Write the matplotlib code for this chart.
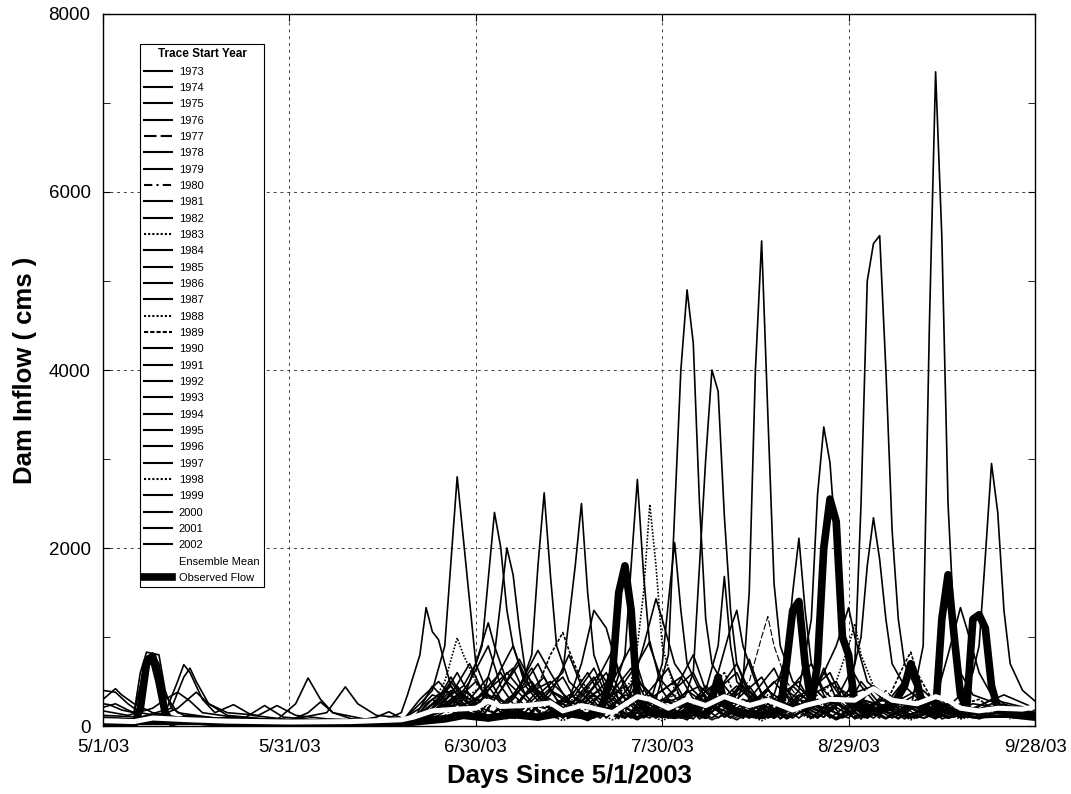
import matplotlib
matplotlib.use("Agg")
import matplotlib.pyplot as plt
import numpy as np

# x axis: days since 5/1/2003
tick_days = [0, 30, 60, 90, 120, 150]
tick_labels = ["5/1/03", "5/31/03", "6/30/03", "7/30/03", "8/29/03", "9/28/03"]

# Ensemble traces, (day, cms) vertices
trace_1973 = [(0,60),(10,50),(20,40),(30,40),(40,35),(48,50),(51,250),(53,400),(55,900),(57,2800),(58,2100),(59,1400),(60,700),(62,350),(64,150),(67,450),(70,850),(72,600),(75,250),(78,90),(82,300),(86,700),(88,950),(90,400),(93,90),(97,300),(101,200),(104,750),(106,350),(109,80),(114,300),(116,650),(118,300),(121,80),(126,250),(130,600),(132,300),(135,80),(140,200),(145,350),(150,200)]
trace_1974 = [(0,210),(2,250),(4,180),(5,150),(6,600),(7,830),(9,800),(10,400),(11,200),(13,120),(20,80),(30,60),(40,50),(50,70),(53,450),(55,300),(57,100),(61,350),(66,650),(68,350),(71,100),(75,300),(78,600),(80,350),(83,90),(86,500),(90,250),(94,100),(97,400),(99,900),(100,1680),(101,900),(102,500),(105,250),(108,90),(111,450),(114,700),(116,350),(119,100),(122,500),(125,250),(129,80),(134,300),(138,100),(143,250),(150,150)]
trace_1975 = [(0,40),(10,30),(20,30),(30,30),(40,30),(50,40),(54,250),(57,600),(59,350),(62,100),(66,300),(70,700),(72,400),(75,100),(79,450),(82,850),(84,400),(87,100),(91,350),(95,600),(97,300),(100,100),(104,300),(108,650),(110,350),(114,100),(118,300),(121,700),(122,2500),(123,5000),(124,5420),(125,5510),(126,4000),(127,2200),(128,1200),(129,700),(131,400),(134,200),(138,100),(143,300),(150,180)]
trace_1976 = [(0,80),(8,60),(20,50),(30,60),(33,150),(35,270),(37,150),(40,80),(50,60),(53,200),(56,550),(58,300),(61,100),(64,400),(67,750),(70,350),(73,100),(77,350),(80,600),(83,300),(86,100),(89,300),(91,800),(93,4000),(94,4900),(95,4300),(96,2500),(97,1200),(98,700),(100,450),(103,200),(106,100),(110,400),(113,250),(116,600),(119,300),(122,100),(126,350),(130,200),(134,100),(140,250),(150,150)]
trace_1977 = [(0,30),(10,30),(20,30),(30,25),(40,25),(50,30),(55,120),(58,300),(61,200),(65,80),(68,250),(72,180),(76,400),(79,250),(83,80),(88,200),(92,350),(96,120),(100,300),(104,500),(106,1000),(107,1230),(108,900),(110,500),(112,300),(115,100),(118,250),(122,80),(126,400),(128,250),(132,80),(136,200),(140,100),(145,250),(150,120)]
trace_1978 = [(0,50),(10,40),(20,40),(30,35),(40,35),(50,50),(53,150),(56,350),(59,700),(61,400),(64,200),(68,90),(72,350),(75,800),(77,450),(80,200),(84,90),(88,400),(91,650),(93,300),(96,80),(100,250),(103,500),(105,300),(108,90),(112,400),(114,1200),(115,2600),(116,3360),(117,2960),(118,2000),(119,1200),(120,700),(122,450),(125,200),(128,80),(132,300),(136,200),(141,80),(146,200),(150,150)]
trace_1979 = [(0,100),(5,80),(10,150),(12,500),(13,690),(14,600),(16,300),(18,150),(21,240),(24,120),(30,70),(40,60),(50,80),(53,300),(56,200),(59,500),(62,900),(64,450),(67,150),(70,350),(74,600),(76,1800),(77,2500),(78,1500),(79,800),(81,400),(84,200),(88,90),(92,400),(95,800),(97,400),(100,100),(104,250),(108,90),(112,350),(116,200),(120,90),(124,450),(127,250),(130,90),(134,300),(138,120),(144,150),(150,130)]
trace_1980 = [(0,20),(10,20),(20,20),(30,20),(40,20),(50,30),(54,80),(58,150),(62,60),(66,180),(70,70),(74,200),(78,80),(82,250),(86,90),(90,200),(94,70),(98,220),(102,90),(106,250),(110,100),(114,200),(118,300),(122,110),(126,220),(130,90),(134,250),(138,100),(142,200),(146,80),(150,150)]
trace_1981 = [(0,30),(10,30),(20,30),(30,30),(40,30),(50,40),(54,150),(58,400),(60,300),(64,600),(66,350),(70,100),(74,300),(78,200),(82,500),(85,900),(87,450),(90,200),(94,90),(98,350),(102,600),(104,300),(107,90),(112,250),(116,100),(120,350),(124,450),(127,300),(130,200),(132,900),(133,4500),(134,7350),(135,5500),(136,2500),(137,1100),(138,600),(140,350),(144,250),(150,180)]
trace_1982 = [(0,40),(10,35),(20,30),(30,30),(40,30),(48,40),(51,300),(54,500),(56,350),(58,250),(61,300),(63,800),(65,2000),(66,1700),(67,1100),(68,600),(70,350),(73,90),(76,300),(79,550),(81,300),(84,90),(88,350),(91,200),(95,80),(99,400),(102,700),(104,350),(108,90),(112,250),(116,100),(120,400),(123,250),(127,90),(132,250),(136,100),(142,200),(150,130)]
trace_1983 = [(0,20),(10,20),(20,20),(30,20),(40,20),(50,30),(54,70),(58,150),(62,60),(66,200),(70,80),(74,250),(78,90),(82,300),(85,500),(86,900),(87,1500),(88,2490),(89,1800),(90,900),(92,400),(95,200),(98,70),(102,200),(106,80),(110,250),(114,90),(118,200),(122,80),(128,250),(134,90),(140,200),(150,120)]
trace_1984 = [(0,50),(10,40),(20,35),(30,35),(40,35),(45,60),(48,150),(49,350),(51,800),(52,1330),(53,1060),(54,970),(55,700),(56,450),(58,250),(61,100),(64,400),(67,700),(69,400),(72,200),(76,350),(79,650),(81,350),(84,90),(88,300),(92,500),(94,250),(98,90),(102,300),(106,550),(108,300),(112,90),(116,300),(120,200),(124,400),(127,200),(132,90),(138,250),(144,100),(150,100)]
trace_1985 = [(0,120),(6,100),(11,200),(13,550),(14,650),(15,500),(17,250),(20,150),(25,120),(28,230),(31,120),(36,80),(44,60),(50,80),(53,150),(57,450),(59,250),(62,90),(66,350),(69,650),(71,350),(74,90),(78,300),(82,550),(84,300),(87,90),(91,300),(95,200),(99,300),(102,250),(103,500),(104,1500),(105,4000),(106,5450),(107,3500),(108,1600),(109,900),(111,500),(114,300),(117,90),(121,300),(126,90),(131,250),(136,90),(142,180),(150,140)]
trace_1986 = [(0,60),(8,80),(12,200),(15,380),(17,250),(20,120),(26,80),(34,60),(42,50),(50,60),(52,250),(55,400),(58,200),(62,250),(65,600),(68,350),(72,500),(75,300),(77,700),(79,1300),(81,1100),(83,600),(85,350),(88,200),(92,300),(96,450),(99,250),(103,90),(107,400),(110,250),(114,90),(118,350),(122,200),(126,300),(130,90),(134,200),(142,120),(150,130)]
trace_1987 = [(0,30),(10,30),(20,30),(30,25),(40,25),(50,40),(54,200),(57,350),(60,200),(63,500),(66,900),(68,450),(71,200),(74,300),(78,100),(82,350),(84,800),(85,1800),(86,2770),(87,1700),(88,900),(90,500),(93,250),(97,90),(101,350),(104,200),(108,500),(111,250),(115,90),(119,400),(122,250),(126,90),(131,300),(136,200),(144,100),(150,120)]
trace_1988 = [(0,40),(10,40),(20,35),(30,35),(40,35),(48,50),(51,150),(53,250),(55,500),(57,990),(58,800),(60,500),(63,250),(66,80),(70,180),(74,60),(78,200),(82,70),(86,180),(90,60),(94,200),(98,70),(102,180),(106,60),(110,200),(114,80),(118,250),(122,90),(126,200),(130,70),(134,180),(138,80),(144,160),(150,110)]
trace_1989 = [(0,30),(10,30),(20,30),(30,30),(40,30),(50,40),(54,150),(58,400),(61,250),(64,90),(67,300),(70,450),(72,800),(74,1050),(75,850),(77,500),(80,250),(83,90),(87,400),(90,250),(93,90),(97,350),(100,600),(102,300),(106,90),(110,300),(114,200),(118,450),(121,250),(125,90),(127,400),(129,700),(130,830),(131,600),(133,350),(136,200),(141,300),(145,100),(150,130)]
trace_1990 = [(0,250),(1,240),(3,180),(5,150),(6,450),(7,780),(8,820),(9,700),(10,350),(12,150),(18,90),(23,100),(26,230),(29,100),(36,60),(44,50),(50,70),(53,200),(56,500),(58,300),(61,900),(63,2400),(64,2010),(65,1300),(66,900),(68,500),(71,250),(74,90),(78,400),(81,250),(85,90),(89,350),(93,550),(95,300),(99,90),(103,300),(107,200),(111,450),(114,250),(118,90),(122,300),(127,200),(132,400),(135,200),(140,90),(150,120)]
trace_1991 = [(0,20),(10,20),(20,20),(30,20),(40,20),(50,30),(54,120),(57,250),(60,90),(63,350),(66,200),(69,450),(72,250),(75,90),(78,350),(81,600),(83,300),(86,90),(90,300),(94,200),(98,450),(101,250),(104,90),(108,350),(110,800),(111,1500),(112,2110),(113,1300),(114,700),(116,400),(119,200),(123,90),(127,300),(131,200),(136,90),(142,200),(150,110)]
trace_1992 = [(0,30),(10,30),(20,30),(30,30),(40,30),(50,50),(53,200),(56,400),(59,300),(62,550),(64,300),(68,90),(72,400),(76,250),(80,400),(84,200),(87,900),(89,1430),(90,1200),(92,700),(95,400),(98,200),(102,450),(105,250),(109,90),(113,350),(117,600),(119,300),(123,90),(127,250),(131,400),(134,200),(140,100),(150,130)]
trace_1993 = [(0,40),(10,40),(20,40),(30,40),(40,50),(44,100),(46,160),(48,90),(52,100),(55,200),(58,350),(61,200),(65,90),(68,350),(71,550),(73,300),(77,90),(81,300),(84,450),(86,250),(90,90),(94,400),(97,250),(101,90),(105,300),(109,550),(111,300),(115,90),(118,250),(120,400),(122,1000),(123,1800),(124,2340),(125,1870),(126,1200),(127,700),(129,450),(132,250),(136,90),(140,200),(150,140)]
trace_1994 = [(0,30),(10,30),(20,30),(30,30),(40,30),(50,40),(53,120),(56,300),(59,200),(62,450),(64,250),(67,90),(70,300),(74,550),(76,300),(80,90),(84,350),(88,250),(90,700),(91,1400),(92,2060),(93,1300),(94,700),(96,400),(99,200),(103,90),(106,350),(110,200),(114,450),(117,250),(121,90),(125,300),(129,200),(134,350),(138,90),(144,200),(150,110)]
trace_1995 = [(0,170),(4,120),(8,200),(10,300),(12,380),(14,280),(16,150),(22,90),(30,70),(40,60),(50,70),(54,200),(57,300),(60,500),(62,300),(66,90),(70,400),(73,250),(77,90),(81,300),(85,650),(87,350),(91,90),(95,300),(99,200),(103,450),(106,250),(110,90),(114,350),(118,500),(120,250),(124,90),(128,300),(132,200),(134,300),(136,800),(138,1330),(139,1100),(141,600),(143,350),(146,200),(150,150)]
trace_1996 = [(0,50),(10,50),(20,50),(28,70),(31,250),(33,540),(35,300),(37,150),(42,80),(50,70),(53,150),(56,300),(59,200),(62,350),(65,250),(67,400),(69,800),(70,1800),(71,2620),(72,1700),(73,900),(75,500),(78,300),(81,90),(85,350),(89,200),(93,90),(97,450),(100,250),(104,90),(108,300),(112,500),(114,250),(118,90),(122,300),(126,200),(131,90),(136,250),(142,100),(150,120)]
trace_1997 = [(0,30),(10,30),(20,30),(30,30),(40,30),(50,40),(54,80),(58,180),(62,70),(66,200),(70,80),(74,250),(78,90),(82,200),(86,70),(90,250),(94,90),(98,200),(102,70),(106,250),(110,90),(114,200),(118,80),(122,250),(126,90),(130,200),(134,80),(138,350),(140,600),(141,900),(142,1900),(143,2950),(144,2400),(145,1300),(146,700),(148,400),(150,280)]
trace_1998 = [(0,30),(10,30),(20,30),(30,30),(40,30),(50,40),(54,150),(58,300),(61,450),(63,250),(67,90),(70,300),(74,200),(78,450),(80,250),(84,90),(88,300),(92,200),(96,350),(99,200),(103,90),(107,350),(110,200),(114,300),(118,500),(120,900),(121,1150),(122,800),(124,450),(127,250),(131,90),(135,250),(140,100),(150,130)]
trace_1999 = [(0,400),(2,380),(4,250),(6,150),(10,100),(16,80),(22,80),(30,70),(36,150),(39,440),(41,250),(44,120),(50,80),(53,250),(56,450),(58,250),(62,90),(65,300),(69,500),(71,300),(75,90),(79,350),(82,200),(86,90),(90,300),(93,200),(95,600),(96,1800),(97,3000),(98,4000),(99,3760),(100,2360),(101,1300),(102,700),(104,400),(107,200),(111,90),(115,300),(119,90),(123,250),(128,90),(133,200),(138,100),(150,120)]
trace_2000 = [(0,300),(2,420),(3,350),(5,250),(8,150),(12,100),(20,80),(30,60),(40,50),(48,70),(51,200),(53,350),(55,300),(58,450),(60,700),(62,1160),(63,900),(65,500),(68,300),(71,90),(75,350),(78,250),(82,450),(85,250),(89,90),(93,300),(96,200),(100,350),(104,200),(108,90),(112,300),(116,200),(120,350),(124,200),(130,90),(136,250),(142,100),(150,120)]
trace_2001 = [(0,30),(10,30),(20,30),(30,30),(40,30),(50,40),(54,70),(58,160),(62,60),(66,220),(70,70),(74,180),(78,60),(82,220),(86,80),(90,180),(94,70),(97,250),(99,600),(101,1100),(102,1300),(103,900),(105,500),(107,250),(110,80),(114,220),(118,70),(122,200),(126,80),(130,250),(134,90),(140,200),(150,130)]
trace_2002 = [(0,40),(10,40),(20,40),(30,40),(40,40),(48,50),(51,120),(54,300),(57,200),(61,350),(64,200),(68,90),(72,400),(75,250),(79,90),(83,300),(86,550),(88,300),(92,90),(96,350),(100,250),(104,450),(106,250),(110,90),(114,300),(118,900),(120,1330),(121,1000),(123,500),(126,300),(130,90),(135,250),(140,100),(150,130)]

traces = [trace_1973, trace_1974, trace_1975, trace_1976, trace_1977, trace_1978,
          trace_1979, trace_1980, trace_1981, trace_1982, trace_1983, trace_1984,
          trace_1985, trace_1986, trace_1987, trace_1988, trace_1989, trace_1990,
          trace_1991, trace_1992, trace_1993, trace_1994, trace_1995, trace_1996,
          trace_1997, trace_1998, trace_1999, trace_2000, trace_2001, trace_2002]
trace_years = list(range(1973, 2003))

# Ensemble mean (white) and observed flow (heavy black)
ensemble_mean = [(0,60),(5,50),(8,90),(11,80),(14,70),(20,55),(30,45),(40,50),(48,70),(50,100),(53,170),(57,190),(60,200),(62,280),(64,220),(68,230),(72,260),(74,170),(77,230),(82,150),(86,330),(88,300),(91,200),(94,300),(97,230),(100,330),(104,230),(107,290),(111,180),(113,230),(117,300),(121,290),(124,420),(127,290),(131,250),(134,330),(136,290),(138,200),(141,170),(144,200),(148,190),(150,215)]
observed_flow = [(0,15),(5,15),(6,200),(7,700),(8,780),(9,500),(10,150),(11,40),(13,70),(14,90),(16,50),(20,30),(30,20),(40,20),(48,30),(52,60),(55,80),(58,120),(62,90),(66,130),(70,100),(74,150),(78,110),(80,150),(82,600),(83,1500),(84,1800),(85,1300),(86,300),(88,150),(92,120),(95,160),(97,120),(98,300),(99,550),(100,250),(102,150),(106,120),(109,180),(110,700),(111,1300),(112,1400),(113,700),(114,250),(115,700),(116,2000),(117,2550),(118,2300),(119,1000),(120,800),(121,250),(123,150),(127,220),(129,450),(130,700),(131,500),(132,200),(134,150),(135,1200),(136,1700),(137,1000),(138,350),(139,200),(140,1200),(141,1250),(142,1100),(143,450),(144,200),(146,130),(150,100)]

# a few traces use dotted / dash-dot lines like the original legend
dotted = {1983: (0, (1, 1)), 1988: (0, (1, 1)), 1989: (0, (2, 1)),
          1998: (0, (1, 1)), 1980: (0, (4, 2, 1, 2)), 1977: (0, (6, 2))}

plt.rcParams['font.family'] = ['Liberation Sans', 'DejaVu Sans']

fig = plt.figure(figsize=(10.71, 7.94), dpi=100)
ax = fig.add_axes([0.0962, 0.0856, 0.8702, 0.8968])

for year, tr in zip(trace_years, traces):
    d, q = zip(*tr)
    ls = dotted.get(year, '-')
    lw = 0.8 if year in (1977, 1980) else 1.2
    ax.plot(d, q, color='black', lw=lw, ls=ls, label=str(year), zorder=2)

d, q = zip(*ensemble_mean)
ax.plot(d, q, color='white', lw=3.6, label='Ensemble Mean', zorder=5)
d, q = zip(*observed_flow)
ax.plot(d, q, color='black', lw=5.5, label='Observed Flow', zorder=4,
        solid_joinstyle='round')

ax.set_xlim(0, 150)
ax.set_ylim(0, 8000)
ax.set_xticks(tick_days)
ax.set_xticklabels(tick_labels)
ax.set_yticks([0, 2000, 4000, 6000, 8000])
ax.set_yticks(np.arange(0, 8001, 1000), minor=True)
ax.tick_params(direction='in', top=True, right=True, length=5, labelsize=13.5, pad=9)
ax.tick_params(which='minor', direction='in', right=True, left=True, length=5)

# dashed grid, only the inner lines
for x in tick_days[1:-1]:
    ax.axvline(x, color='0.25', lw=0.7, ls=(0, (3, 4)), zorder=1)
for y in [2000, 4000, 6000]:
    ax.axhline(y, color='0.25', lw=0.7, ls=(0, (3, 4)), zorder=1)

for s in ax.spines.values():
    s.set_linewidth(1.0)
    s.set_zorder(6)

ax.set_xlabel('Days Since 5/1/2003', fontsize=18.5, fontweight='bold', labelpad=6)
ax.set_ylabel('Dam Inflow ( cms )', fontsize=18.5, fontweight='bold', labelpad=8)

leg = ax.legend(loc='upper left', bbox_to_anchor=(0.0397, 0.958), borderaxespad=0,
                fontsize=8, title='Trace Start Year', title_fontproperties={'size': 8.5, 'weight': 'bold'},
                frameon=True, fancybox=False, edgecolor='black', framealpha=1,
                handlelength=2.5, handletextpad=0.6, labelspacing=0.57, borderpad=0.4)
leg.get_frame().set_linewidth(0.8)
for h in leg.get_lines()[:30]:
    h.set_linewidth(1.5)
leg.set_zorder(10)

fig.savefig('out.png', dpi=100)
